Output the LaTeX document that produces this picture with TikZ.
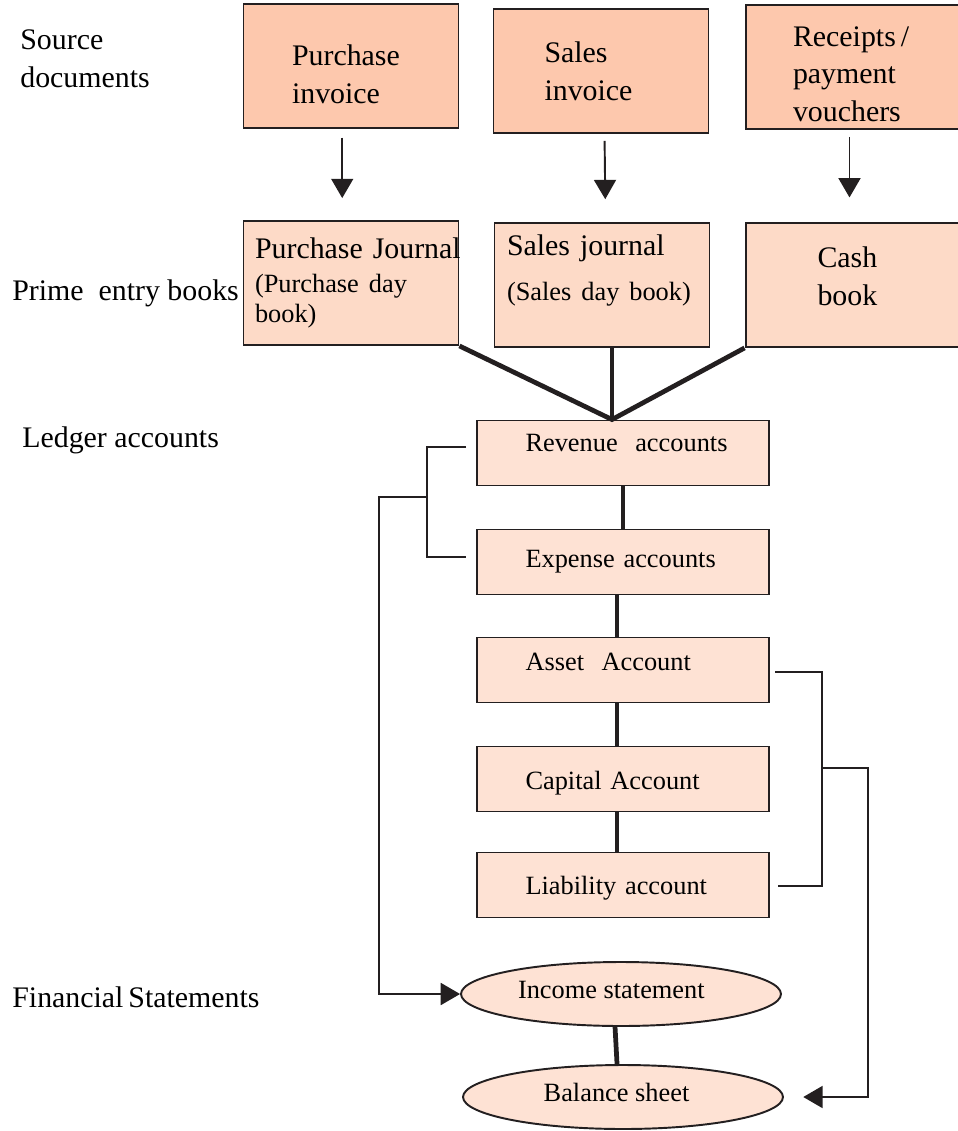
\documentclass[tikz,border=0pt]{standalone}
\usepackage{fontspec}
\setmainfont{Liberation Serif}
\usepackage{xcolor}
\usetikzlibrary{arrows.meta, calc, positioning, shapes.geometric}
\definecolor{srcfill}{HTML}{FDC8AD}
\definecolor{bookfill}{HTML}{FDDAC7}
\definecolor{ledgerfill}{HTML}{FEE2D4}
\definecolor{edgegray}{HTML}{231F20}
\newcommand{\bigtext}{\fontsize{17}{21.5}\selectfont}
\newcommand{\smalltext}{\fontsize{15}{17}\selectfont}
\newcommand{\nudge}[2]{\raisebox{#1}[\height][\depth]{#2}}

\begin{document}
\begin{tikzpicture}[x=0.02cm, y=-0.02cm,
    srcbox/.style={draw=edgegray, line width=1.1pt, fill=srcfill, minimum width=4.3cm,
        minimum height=2.48cm, align=left, inner xsep=0pt, font=\bigtext},
    bookbox/.style={draw=edgegray, line width=1.1pt, fill=bookfill, minimum width=4.3cm,
        minimum height=2.48cm, align=left, inner xsep=0pt, font=\bigtext},
    ledgerbox/.style={draw=edgegray, line width=1.1pt, fill=ledgerfill, minimum width=5.84cm,
        minimum height=1.3cm, text width=3.9cm, align=left, inner xsep=0pt, font=\smalltext},
    stmt/.style={ellipse, draw=edgegray, line width=1.1pt, fill=ledgerfill, minimum width=6.4cm,
        minimum height=1.28cm, inner sep=0pt, font=\smalltext},
    sidelabel/.style={anchor=west, inner xsep=0pt, align=left, font=\bigtext},
    flowarrow/.style={draw=edgegray, line width=1.1pt, -{Triangle[length=11pt, width=12.5pt]}},
    joinline/.style={draw=edgegray, line width=2.7pt},
    bracketline/.style={draw=edgegray, line width=1.1pt}]

    \useasboundingbox (0,0) rectangle (957,1131);

    % 左侧标题
    \node[sidelabel] (srclabel) at (20,59) {Source\\documents};
    \node[sidelabel] (primelabel) at (12,293) {Prime\enspace entry books};
    \node[sidelabel] (ledgerlabel) at (22,440) {Ledger accounts};
    \node[sidelabel] (finlabel) at (12,997) {Financial\,Statements};

    % 原始凭证
    \node[srcbox, text width=2.36cm] (pinv) at (351,66) {Purchase\\invoice\\[-30.5pt]\mbox{}};
    \node[srcbox, text width=2.26cm] (sinv) at (601,71) {Sales\\invoice};
    \node[srcbox, text width=2.4cm] (rcpt) at (853,67) {Receipts\,/\\payment\\vouchers\\[-29.5pt]\mbox{}};

    % 日记账
    \node[bookbox, text width=3.84cm] (pjour) at (351,283)
        {\mbox{Purchase Journal}\\[-2.4pt]{\smalltext(Purchase day}\\[-4.5pt]{\smalltext book)}};
    \node[bookbox, text width=3.8cm] (sjour) at (602,285)
        {Sales journal\\[4pt]{\smalltext(Sales day book)}\\[-2pt]\mbox{}};
    \node[bookbox, text width=1.42cm] (cbook) at (853,285) {Cash\\book\\[-11.5pt]\mbox{}};

    % 箭头
    \draw[flowarrow, shorten <=5pt, shorten >=12.5pt] ([xshift=-5pt]pinv.south) -- ([xshift=-5pt]pjour.north);
    \draw[flowarrow, shorten <=4pt, shorten >=13pt] ([xshift=2pt]sinv.south) -- ([xshift=2pt]sjour.north);
    \draw[flowarrow, shorten <=4pt, shorten >=14pt] ([xshift=-2pt]rcpt.south) -- ([xshift=-2pt]cbook.north);

    % 分类账
    \node[ledgerbox] (rev) at (623,453) {\mbox{Revenue \ accounts}\\[-5.6pt]\mbox{}};
    \node[ledgerbox] (exp) at (623,562) {Expense accounts};
    \node[ledgerbox] (asset) at (623,670) {Asset \ Account\\[-8pt]\mbox{}};
    \node[ledgerbox] (cap) at (623,779) {\nudge{-2.3pt}{Capital Account}};
    \node[ledgerbox] (liab) at (623,885) {\nudge{-1.7pt}{Liability account}};

    % 汇合线
    \coordinate (meet) at ($(rev.north)+(-11,0)$);
    \draw[joinline] (pjour.south east) -- (meet) -- (cbook.south west);
    \draw[joinline] (sjour.south -| meet) -- (meet);
    \draw[joinline] (rev) -- (exp);
    \draw[joinline] ([xshift=-3.4pt]exp.south) -- ([xshift=-3.4pt]asset.north);
    \draw[joinline] ([xshift=-3.4pt]asset.south) -- ([xshift=-3.4pt]cap.north);
    \draw[joinline] ([xshift=-3.4pt]cap.south) -- ([xshift=-3.4pt]liab.north);

    % 财务报表
    \node[stmt] (inc) at (621,994) {\nudge{2.3pt}{Income statement}\kern11pt};
    \node[stmt] (bal) at (623,1097) {\nudge{2.3pt}{Balance sheet}\kern7.4pt};
    \draw[joinline] ([xshift=-3.4pt]inc.south) -- ([xshift=-3.4pt]bal.north);

    % 左括号
    \coordinate (revarm) at (466,447);
    \coordinate (exparm) at (466,557);
    \coordinate (lstem) at (427,497);
    \draw[bracketline] (revarm) -- ++(-39,0) |- (exparm);
    \draw[flowarrow] (lstem) -- ++(-48,0) |- (inc.west);

    % 右括号
    \coordinate (assetarm) at (775,672);
    \coordinate (liabarm) at (778,886);
    \coordinate (rstem) at (822,768);
    \draw[bracketline] (assetarm) -- ++(47,0) |- (liabarm);
    \draw[flowarrow, shorten >=11pt] (rstem) -- ++(46,0) |- (bal.east);
\end{tikzpicture}
\end{document}
